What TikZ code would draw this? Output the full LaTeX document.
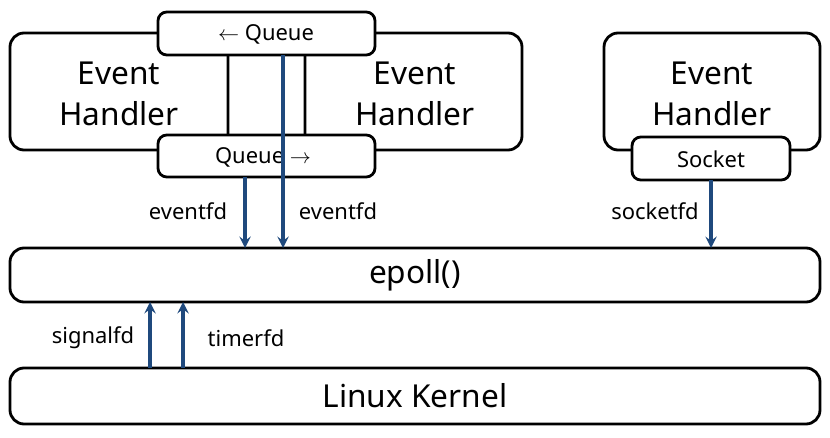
\documentclass[tikz,border=0pt]{standalone}
\usepackage{fontspec}
\setmainfont{Noto Sans}
\usetikzlibrary{positioning}
\definecolor{fdblue}{RGB}{31,73,125}
\begin{document}
\begin{tikzpicture}[
    x=0.02cm, y=-0.02cm,
    box/.style={draw, line width=1.6pt, rounded corners=8pt, fill=white},
    big/.style={font=\fontsize{18}{23}\selectfont, align=center},
    small/.style={font=\fontsize{12.5}{14}\selectfont},
    fd/.style={draw=fdblue, line width=1.8pt, ->, >=stealth},
]
\useasboundingbox (0,0) rectangle (830,438);

% Event handlers
\draw[box] (10,33) rectangle (228,150);
\node[big] (lefth) at (119,94) {Event\\Handler};
\draw[box] (305,33) rectangle (522,150);
\node[big] (righth) at (415,94) {Event\\Handler};
\draw[line width=1.6pt] (228,55) -- (228,135);
\draw[line width=1.6pt] (305,55) -- (305,135);
\draw[box] (604,33) rectangle (820,150);
\node[big] (sockh) at (712,94) {Event\\Handler};

% Queues and socket
\draw[box, rounded corners=5pt] (158,12) rectangle (375,55);
\node[small] (qtop) at (266,34) {$\leftarrow$ Queue};
\draw[box, rounded corners=5pt] (158,135) rectangle (375,177);
\node[small] (qbot) at (263,157) {Queue $\rightarrow$};
\draw[box, rounded corners=5pt] (632,137) rectangle (790,180);
\node[small] (sock) at (711,159) {Socket};

% epoll and kernel
\draw[box] (10,248) rectangle (820,302);
\node[big] (epoll) at (415,275) {epoll()};
\draw[box] (10,368) rectangle (820,424);
\node[big] (kernel) at (415,396) {Linux Kernel};

% fd arrows
\coordinate (a1) at (245,177); \coordinate (b1) at (245,248);
\coordinate (a2) at (283,55);  \coordinate (b2) at (283,248);
\coordinate (a3) at (711,180); \coordinate (b3) at (711,248);
\coordinate (a4) at (150,368); \coordinate (b4) at (150,302);
\coordinate (a5) at (183,368); \coordinate (b5) at (183,302);
\draw[fd] (a1) -- (b1);
\draw[fd] (a2) -- (b2);
\draw[fd] (a3) -- (b3);
\draw[fd] (a4) -- (b4);
\draw[fd] (a5) -- (b5);
\node[small] (l1) at (188,211) {eventfd};
\node[small] (l2) at (338,211) {eventfd};
\node[small] (l3) at (655,211) {socketfd};
\node[small] (l4) at (93,338) {signalfd};
\node[small] (l5) at (246,338) {timerfd};
\end{tikzpicture}
\end{document}
